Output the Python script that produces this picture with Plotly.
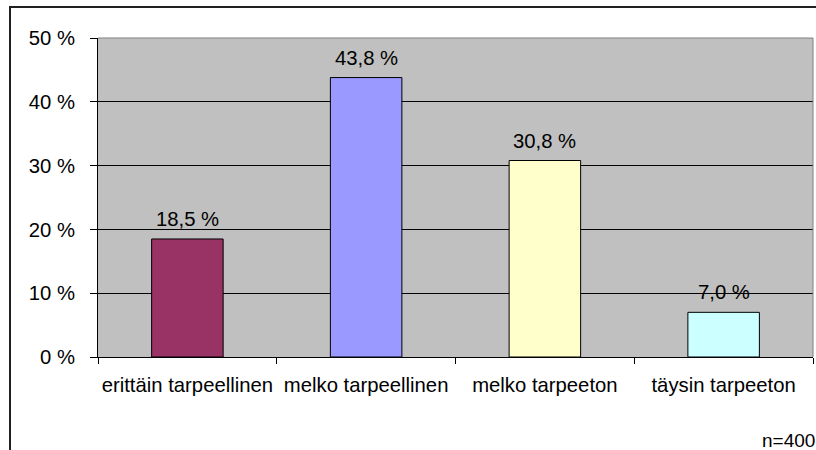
import plotly.graph_objects as go

# Survey answers: share of respondents per option
categories = ["erittäin tarpeellinen", "melko tarpeellinen", "melko tarpeeton", "täysin tarpeeton"]
shares = [18.5, 43.8, 30.8, 7.0]
bar_colors = ["#993366", "#9999FF", "#FFFFCC", "#CCFFFF"]
y_ticks = [0, 10, 20, 30, 40, 50]
sample_note = "n=400"

W, H = 816, 450
L, R, T, B = 98, 3, 38, 93
plot_w = W - L - R
plot_h = H - T - B
FS = 20.3


def px_x(p):
    return (p - L) / plot_w


def px_y(p):
    return (H - B - p) / plot_h


labels = [f"{v:.1f}".replace(".", ",") + " %" for v in shares]

fig = go.Figure(
    go.Bar(
        x=categories,
        y=shares,
        width=0.4,
        marker=dict(color=bar_colors, line=dict(color="black", width=1)),
        hoverinfo="skip",
    )
)

# Value labels above each bar
for cat, val, lab in zip(categories, shares, labels):
    fig.add_annotation(
        x=cat, y=val, text=lab,
        xanchor="center", yanchor="bottom",
        yshift=7, showarrow=False,
        font=dict(size=FS, color="black"),
    )

font_family = "Liberation Sans, Arial, sans-serif"

fig.update_layout(
    width=W,
    height=H,
    margin=dict(l=L, r=R, t=T, b=B, autoexpand=False),
    paper_bgcolor="white",
    plot_bgcolor="#C0C0C0",
    font=dict(family=font_family, size=FS, color="black"),
    showlegend=False,
    bargap=0.6,
    separators=", ",
)

fig.update_yaxes(
    range=[0, 50],
    tickvals=y_ticks,
    ticktext=[f"{t} %" for t in y_ticks],
    showgrid=True,
    gridcolor="black",
    gridwidth=1,
    showline=True,
    linecolor="black",
    linewidth=1,
    ticks="outside",
    ticklen=7,
    tickcolor="black",
    ticklabelstandoff=11,
    zeroline=False,
    automargin=False,
    fixedrange=True,
)

fig.update_xaxes(
    showline=True,
    linecolor="black",
    linewidth=1,
    ticks="outside",
    tickson="boundaries",
    ticklen=6,
    tickcolor="black",
    tickangle=0,
    ticklabelstandoff=10,
    automargin=False,
    fixedrange=True,
)

# Plot area frame (top and right edges) and the outer chart border
fig.add_shape(type="line", xref="paper", yref="paper", x0=0, x1=1, y0=1, y1=1,
              line=dict(color="#808080", width=1))
fig.add_shape(type="line", xref="paper", yref="paper", x0=1, x1=1, y0=0, y1=1,
              line=dict(color="#808080", width=1))
fig.add_shape(type="rect", xref="paper", yref="paper",
              x0=px_x(10), x1=px_x(825), y0=px_y(460), y1=px_y(7),
              line=dict(color="#202020", width=2), layer="below")

fig.add_annotation(
    text=sample_note,
    xref="paper", yref="paper",
    x=px_x(817), y=px_y(440),
    xanchor="right", yanchor="middle",
    showarrow=False,
    font=dict(size=19, color="black"),
)

fig.write_html("out.html")
